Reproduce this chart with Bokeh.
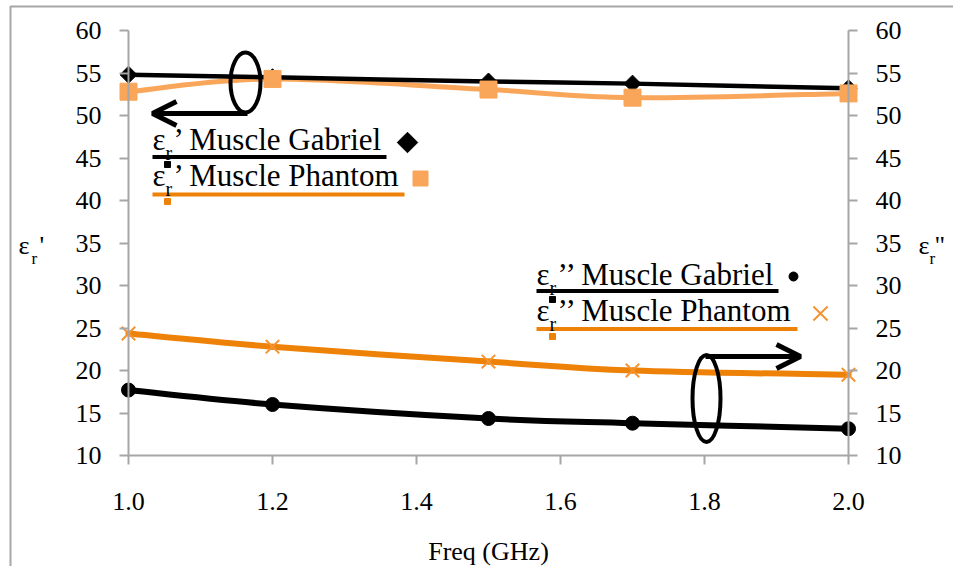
import numpy as np
from bokeh.plotting import figure
from bokeh.models import (Range1d, LinearAxis, FixedTicker, Label, Arrow, OpenHead,
                          NumeralTickFormatter)
from bokeh.embed import file_html
from bokeh.resources import INLINE

# ---------------- data ----------------
freq = [1.0, 1.2, 1.5, 1.7, 2.0]
er1_gabriel = [54.8, 54.5, 54.0, 53.75, 53.2]
er1_phantom = [52.8, 54.3, 53.05, 52.1, 52.6]
er2_gabriel = [17.7, 16.0, 14.35, 13.8, 13.15]
er2_phantom = [24.35, 22.8, 21.05, 20.0, 19.5]
x_ticks = [1.0, 1.2, 1.4, 1.6, 1.8, 2.0]
y_ticks = [10, 15, 20, 25, 30, 35, 40, 45, 50, 55, 60]
x_min, x_max = 1.0, 2.0
y_min, y_max = 10, 60

BLACK = "#000000"
ORANGE_LIGHT = "#F9A65A"
ORANGE = "#EE8208"
ORANGE_X = "#F39331"
GREY = "#A6A6A6"
FONT = "Liberation Serif"

# ---------------- layout (pixel geometry of the canvas) ----------------
W, H = 953, 566
FX0, FX1 = 128, 848     # pixel column of x_min / x_max
FY0, FY1 = 455, 30      # pixel row of y_min / y_max


def px2x(px):
    return x_min + (px - FX0) * (x_max - x_min) / (FX1 - FX0)


def px2y(py):
    return y_min + (FY0 - py) * (y_max - y_min) / (FY0 - FY1)


p = figure(width=W, height=H, output_backend="svg", toolbar_location=None,
           x_range=Range1d(px2x(0), px2x(W)), y_range=Range1d(px2y(H), px2y(0)),
           min_border=0)
p.outline_line_color = None
p.xgrid.visible = False
p.ygrid.visible = False
p.add_layout(LinearAxis(), "right")


def style_axis(ax, standoff):
    ax.axis_line_color = GREY
    ax.axis_line_width = 2
    ax.major_tick_line_color = GREY
    ax.major_tick_line_width = 2
    ax.major_tick_out = 9
    ax.major_tick_in = 0
    ax.minor_tick_line_color = None
    ax.major_label_text_font = FONT
    ax.major_label_text_font_size = "26px"
    ax.major_label_text_color = "black"
    ax.major_label_standoff = standoff


for ax in p.xaxis:
    style_axis(ax, 28)
    ax.ticker = FixedTicker(ticks=x_ticks)
    ax.formatter = NumeralTickFormatter(format="0.0")
    ax.fixed_location = y_min
    ax.bounds = (x_min, x_max)
for ax in p.yaxis:
    style_axis(ax, 18)
    ax.ticker = FixedTicker(ticks=y_ticks)
    ax.bounds = (y_min, y_max)
p.yaxis[0].fixed_location = x_min
p.yaxis[1].fixed_location = x_max

# chart border (left + top)
p.line([px2x(10), px2x(10), px2x(W)], [px2y(H), px2y(6), px2y(6)], line_color=GREY, line_width=2)


def smooth(xs, ys):
    n = len(xs)
    P = list(zip(xs, ys))
    d = dict(x0=[], y0=[], x1=[], y1=[], cx0=[], cy0=[], cx1=[], cy1=[])
    for i in range(n - 1):
        p0 = P[i - 1] if i > 0 else P[i]
        p1, p2 = P[i], P[i + 1]
        p3 = P[i + 2] if i + 2 < n else P[i + 1]
        d["x0"].append(p1[0]); d["y0"].append(p1[1])
        d["x1"].append(p2[0]); d["y1"].append(p2[1])
        d["cx0"].append(p1[0] + (p2[0] - p0[0]) / 6); d["cy0"].append(p1[1] + (p2[1] - p0[1]) / 6)
        d["cx1"].append(p2[0] - (p3[0] - p1[0]) / 6); d["cy1"].append(p2[1] - (p3[1] - p1[1]) / 6)
    return d


def curve(ys, color, width):
    s = smooth(freq, ys)
    p.bezier(x0=s["x0"], y0=s["y0"], x1=s["x1"], y1=s["y1"], cx0=s["cx0"], cy0=s["cy0"],
             cx1=s["cx1"], cy1=s["cy1"], line_color=color, line_width=width, line_cap="round")


curve(er2_phantom, ORANGE, 6)
curve(er2_gabriel, BLACK, 6)
curve(er1_phantom, ORANGE_LIGHT, 5)
curve(er1_gabriel, BLACK, 4.5)

p.scatter(freq, er1_gabriel, marker="square", angle=np.pi / 4, size=12, color=BLACK)
p.scatter(freq, er1_phantom, marker="square", size=17, color=ORANGE_LIGHT)
p.scatter(freq, er2_gabriel, marker="circle", size=14, color=BLACK)
p.scatter(freq, er2_phantom, marker="x", size=19, line_color=ORANGE_X, line_width=2)

# ---------------- annotations ----------------
p.ellipse(x=[px2x(245)], y=[px2y(82)], width=30, height=60, width_units="screen",
          height_units="screen", fill_alpha=0, line_color=BLACK, line_width=4)
p.add_layout(Arrow(end=OpenHead(size=24, line_width=5, line_color=BLACK),
                   x_start=px2x(247), y_start=px2y(113), x_end=px2x(152), y_end=px2y(113),
                   line_width=5, line_color=BLACK))
p.ellipse(x=[px2x(706)], y=[px2y(398)], width=28, height=87, width_units="screen",
          height_units="screen", fill_alpha=0, line_color=BLACK, line_width=4)
p.add_layout(Arrow(end=OpenHead(size=24, line_width=5, line_color=BLACK),
                   x_start=px2x(705), y_start=px2y(356), x_end=px2x(800), y_end=px2y(356),
                   line_width=5, line_color=BLACK))

TXT_DY = 0.38  # baseline correction, fraction of font size


def text(px, py, s, size, dx=0, dy=0):
    p.add_layout(Label(x=px2x(px), y=px2y(py), x_offset=dx, y_offset=dy + TXT_DY * size,
                       text=s, text_font=FONT, text_font_size=f"{size}px",
                       text_color="black", text_baseline="alphabetic"))


def eps_label(px, py, rest, size, sub_size, r_dx, r_dy, rest_dx):
    text(px, py, "ε", size)
    text(px, py, "r", sub_size, dx=r_dx, dy=-r_dy)
    text(px, py, rest, size, dx=rest_dx)


# legend 1 (eps')
p.segment(x0=[px2x(152)] * 2, y0=[px2y(156.5), px2y(194)],
          x1=[px2x(386), px2x(404)], y1=[px2y(156.5), px2y(194)],
          line_color=[BLACK, ORANGE], line_width=4)
eps_label(152, 151, "’ Muscle Gabriel", 31, 20, 13, 9, 21)
eps_label(152, 187, "’ Muscle Phantom", 31, 20, 13, 9, 21)
p.scatter([px2x(407)], [px2y(142)], marker="square", angle=np.pi / 4, size=14.5, color=BLACK)
p.scatter([px2x(420)], [px2y(178)], marker="square", size=15, color=ORANGE_LIGHT)
p.scatter([px2x(167)] * 2, [px2y(164), px2y(201)], marker="square", size=6, color=[BLACK, ORANGE])

# legend 2 (eps'')
p.segment(x0=[px2x(536)] * 2, y0=[px2y(290.5), px2y(328.5)],
          x1=[px2x(778), px2x(797)], y1=[px2y(290.5), px2y(328.5)],
          line_color=[BLACK, ORANGE], line_width=4)
eps_label(536, 286, "’’ Muscle Gabriel", 31, 20, 13, 9, 21)
eps_label(536, 322, "’’ Muscle Phantom", 31, 20, 13, 9, 21)
p.scatter([px2x(793)], [px2y(276)], marker="circle", size=9, color=BLACK)
p.scatter([px2x(820)], [px2y(313)], marker="x", size=20, line_color=ORANGE_X, line_width=2)
p.scatter([px2x(552)] * 2, [px2y(299), px2y(336)], marker="square", size=6, color=[BLACK, ORANGE])

# axis titles
eps_label(18, 255, "'", 26, 17, 13, 9, 21)
eps_label(918, 255, '"', 26, 17, 11, 9, 16)
p.add_layout(Label(x=(x_min + x_max) / 2, y=px2y(551), text="Freq (GHz)",
                   text_font=FONT, text_font_size="26px", text_color="black",
                   text_align="center", text_baseline="middle"))

open("out.html", "w").write(file_html(p, INLINE))
